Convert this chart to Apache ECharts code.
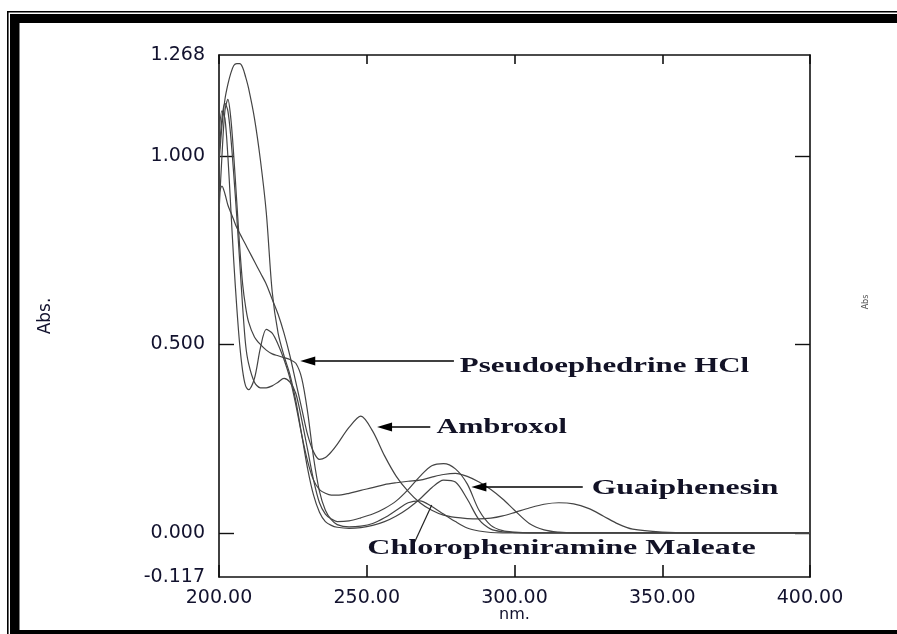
<!DOCTYPE html>
<html><head><meta charset="utf-8">
<script src="https://cdn.jsdelivr.net/npm/echarts@6/dist/echarts.min.js"></script>
<style>html,body{margin:0;padding:0;background:#fff}#c{width:897px;height:634px}</style>
</head><body><div id="c"></div>
<script>
// ---- data ----
const wavelengthNm = [200,201,202,203,204,205,206,207,208,209,210,212,214,216,218,220,222,224,226,228,230,232,234,236,238,240,244,248,252,256,260,264,268,272,276,280,284,288,292,296,300,305,310,315,320,325,330,335,340,350,360,380,400];
// tallest band (~1.245 at 207 nm)
const curveA = [0.98,1.08,1.15,1.19,1.22,1.24,1.245,1.245,1.235,1.21,1.18,1.10,0.99,0.85,0.64,0.53,0.47,0.42,0.35,0.26,0.17,0.10,0.055,0.03,0.02,0.015,0.012,0.014,0.02,0.03,0.045,0.065,0.09,0.12,0.14,0.135,0.09,0.035,0.01,0.003,0.001,0,0,0,0,0,0,0,0,0,0,0,0];
// Ambroxol (248 nm and ~315 nm bands)
const curveB = [0.90,0.92,0.90,0.87,0.85,0.83,0.81,0.795,0.78,0.765,0.75,0.72,0.69,0.66,0.62,0.58,0.53,0.47,0.40,0.33,0.26,0.215,0.195,0.20,0.215,0.235,0.28,0.31,0.27,0.205,0.15,0.11,0.08,0.06,0.047,0.041,0.038,0.037,0.039,0.045,0.054,0.066,0.076,0.08,0.077,0.065,0.045,0.024,0.01,0.002,0,0,0];
// curve with dip at 210 nm and bump at 216 nm, broad band to ~300 nm
const curveC = [1.05,1.12,1.10,1.00,0.86,0.72,0.60,0.50,0.43,0.39,0.38,0.41,0.49,0.54,0.53,0.50,0.46,0.41,0.34,0.26,0.19,0.14,0.115,0.105,0.10,0.10,0.105,0.113,0.12,0.128,0.133,0.137,0.14,0.148,0.155,0.158,0.15,0.135,0.115,0.09,0.06,0.025,0.008,0.002,0,0,0,0,0,0,0,0,0];
// Guaiphenesin (274 nm band)
const curveD = [1.00,1.10,1.14,1.12,1.05,0.95,0.84,0.72,0.60,0.50,0.45,0.40,0.385,0.385,0.39,0.40,0.41,0.40,0.37,0.30,0.22,0.14,0.08,0.05,0.037,0.03,0.032,0.04,0.05,0.065,0.085,0.115,0.15,0.178,0.184,0.17,0.13,0.06,0.02,0.006,0.002,0,0,0,0,0,0,0,0,0,0,0,0];
// Chloropheniramine maleate (weak ~265 nm band)
const curveE = [0.85,1.00,1.12,1.15,1.10,1.00,0.88,0.76,0.66,0.60,0.56,0.52,0.50,0.485,0.475,0.47,0.465,0.46,0.45,0.41,0.32,0.20,0.11,0.06,0.035,0.022,0.016,0.018,0.025,0.04,0.06,0.08,0.085,0.07,0.05,0.03,0.013,0.005,0.001,0,0,0,0,0,0,0,0,0,0,0,0,0,0];

const xTickMin = 200, xTickMax = 400, xTickStep = 50;
const yLabelValues = [-0.117, 0, 0.5, 1, 1.268];
const yTickValues = [0, 0.5, 1];

// annotations (data coordinates)
const annoLabels = ['Pseudoephedrine HCl', 'Ambroxol', 'Guaiphenesin'];
const annoTips   = [[227.5, 0.456], [253.5, 0.281], [285.4, 0.122]];
const annoTails  = [[279.5, 0.456], [271.5, 0.281], [323.1, 0.122]];
const annoTextAt = [[281.5, 0.44], [273.6, 0.279], [326.1, 0.117]];
const annoWidths = [303, 131, 204];
const chlorLabel = 'Chloropheniramine Maleate';
const chlorTextAt = [315.9, -0.042];
const chlorLine = [[266.1, -0.026], [272.0, 0.074]];

const chart = echarts.init(document.getElementById('c'), null, {renderer: 'canvas'});
const curves = [curveA, curveB, curveC, curveD, curveE];
const axisCol = '#111';
const labelFont = {fontFamily: 'DejaVu Sans', fontSize: 19, color: '#12122e'};

const option = {
  animation: false,
  backgroundColor: '#fff',
  grid: {left: 219, right: 87, top: 55, bottom: 57, containLabel: false},
  xAxis: [
    {type: 'value', position: 'bottom', min: xTickMin, max: xTickMax, interval: xTickStep,
     axisLine: {show: true, onZero: false, lineStyle: {color: axisCol, width: 1.6}},
     axisTick: {show: true, inside: true, length: 12, lineStyle: {color: axisCol, width: 1.6}},
     axisLabel: Object.assign({margin: 12, formatter: v => v.toFixed(2)}, labelFont),
     splitLine: {show: false},
     name: 'nm.', nameLocation: 'middle', nameGap: 30, nameMoveOverlap: false,
     nameTextStyle: {fontFamily: 'DejaVu Sans', fontSize: 16, color: '#12122e'}},
    {type: 'value', position: 'top', min: xTickMin, max: xTickMax, interval: xTickStep,
     axisLine: {show: true, onZero: false, lineStyle: {color: axisCol, width: 1.6}},
     axisTick: {show: true, inside: true, length: 9, lineStyle: {color: axisCol, width: 1.6}},
     axisLabel: {show: false}, splitLine: {show: false}}
  ],
  yAxis: [
    {type: 'value', position: 'left', min: -0.117, max: 1.268,
     axisLine: {show: true, onZero: false, lineStyle: {color: axisCol, width: 1.6}},
     axisTick: {show: true, inside: true, length: 15, customValues: yTickValues, lineStyle: {color: axisCol, width: 1.4}},
     axisLabel: Object.assign({margin: 14, customValues: yLabelValues, formatter: v => v.toFixed(3)}, labelFont),
     splitLine: {show: false},
     name: 'Abs.', nameLocation: 'middle', nameGap: 165, nameRotate: 90, nameMoveOverlap: false,
     nameTextStyle: {fontFamily: 'DejaVu Sans', fontSize: 17, color: '#12122e'}},
    {type: 'value', position: 'right', min: -0.117, max: 1.268,
     axisLine: {show: true, onZero: false, lineStyle: {color: axisCol, width: 1.6}},
     axisTick: {show: true, inside: true, length: 15, customValues: yTickValues, lineStyle: {color: axisCol, width: 1.4}},
     axisLabel: {show: false}, splitLine: {show: false}}
  ],
  series: curves.map((arr, k) => ({
    type: 'line', xAxisIndex: 0, yAxisIndex: 0, showSymbol: false, smooth: 0.3,
    data: wavelengthNm.map((w, i) => [w, arr[i]]),
    lineStyle: {color: '#444', width: 1.2}, z: 2
  }))
};
chart.setOption(option);

const P = (pt) => chart.convertToPixel({xAxisIndex: 0, yAxisIndex: 0}, pt);
const g = [];
// outer frame
g.push({type:'rect', shape:{x:7,y:11,width:890,height:1.6}, style:{fill:'#000'}, silent:true});
g.push({type:'rect', shape:{x:10,y:14,width:887,height:9}, style:{fill:'#000'}, silent:true});
g.push({type:'rect', shape:{x:7,y:11,width:1.6,height:623}, style:{fill:'#000'}, silent:true});
g.push({type:'rect', shape:{x:10,y:14,width:9.5,height:620}, style:{fill:'#000'}, silent:true});
g.push({type:'rect', shape:{x:10,y:630,width:887,height:4}, style:{fill:'#000'}, silent:true});

const serifFont = 'bold 21px "Liberation Serif"';
const approxW = {'Pseudoephedrine HCl': 9.803, 'Ambroxol': 4.333, 'Guaiphenesin': 6.432, 'Chloropheniramine Maleate': 12.138};
annoLabels.forEach((lab, i) => {
  const tip = P(annoTips[i]), tail = P(annoTails[i]), t = P(annoTextAt[i]);
  g.push({type:'line', shape:{x1: tip[0] + 12, y1: tip[1], x2: tail[0], y2: tail[1]}, style:{stroke:'#000', lineWidth:1.5}, z: 10});
  g.push({type:'polygon', shape:{points:[[tip[0], tip[1]], [tip[0]+15, tip[1]-4.5], [tip[0]+15, tip[1]+4.5]]}, style:{fill:'#000'}, z: 10});
  g.push({type:'text', x: t[0], y: t[1], scaleX: annoWidths[i] / (approxW[lab] * 21), z: 10,
    style:{text: lab, font: serifFont, fill:'#121226', align:'left', verticalAlign:'middle'}});
});
{
  const a = P(chlorLine[0]), b = P(chlorLine[1]);
  g.push({type:'line', shape:{x1:a[0], y1:a[1], x2:b[0], y2:b[1]}, style:{stroke:'#222', lineWidth:1.2}, z: 10});
  const c = P(chlorTextAt);
  g.push({type:'text', x: c[0], y: c[1], scaleX: 389 / (approxW[chlorLabel] * 21), z: 10,
    style:{text: chlorLabel, font: serifFont, fill:'#121226', align:'center', verticalAlign:'middle'}});
}
// small stray label at right
g.push({type:'text', x: 866, y: 302, rotation: Math.PI/2, z: 10,
  style:{text:'Abs', font:'8px "DejaVu Sans"', fill:'#555', align:'center', verticalAlign:'middle'}});
chart.setOption({graphic: g});
</script>
</body></html>
